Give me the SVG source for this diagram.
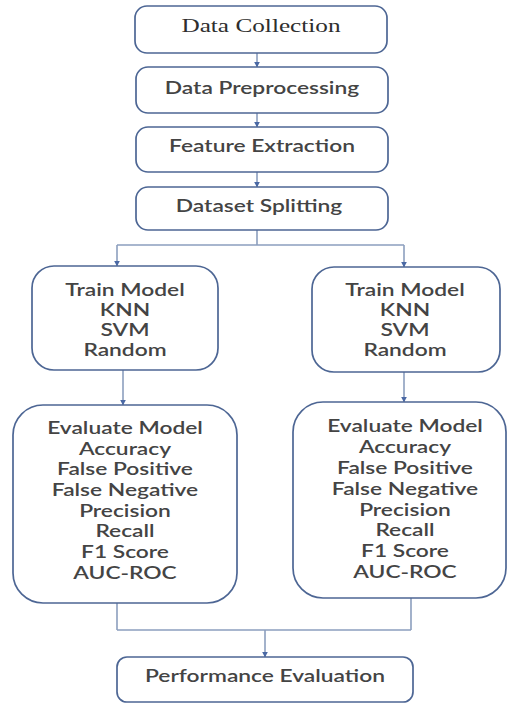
<svg xmlns="http://www.w3.org/2000/svg" width="508" height="704" viewBox="0 0 508 704">
  <defs>
    <marker id="arrow" viewBox="0 0 10 10" refX="9" refY="5" markerWidth="6" markerHeight="8" markerUnits="userSpaceOnUse" orient="auto">
      <path d="M0,0 L10,5 L0,10 z" fill="#4a68a4"/>
    </marker>
    <style>
      .box { fill: #ffffff; stroke: #4d6694; stroke-width: 1.7; }
      .link { fill: none; stroke: #8c9fbe; stroke-width: 1.6; }
      .arrow { marker-end: url(#arrow); }
      text { font-family: Lato, "Open Sans", sans-serif; font-size: 16.5px; font-weight: 600; fill: #444444; text-anchor: middle; dominant-baseline: central; }
      .serif { font-family: "Liberation Serif", "Times New Roman", serif; font-size: 19px; font-weight: 400; fill: #2e2e2e; }
    </style>
  </defs>
  <rect width="508" height="704" fill="#ffffff"/>

  <!-- connectors -->
  <g id="connectors">
    <path class="link arrow" d="M257,53 V67"/>
    <path class="link arrow" d="M257,113 V127"/>
    <path class="link arrow" d="M257,172 V187"/>
    <path class="link" d="M257,230 V245 M117,245 H404"/>
    <path class="link arrow" d="M117,245 V266"/>
    <path class="link arrow" d="M404,245 V267"/>
    <path class="link arrow" d="M123,370 V405"/>
    <path class="link arrow" d="M404,372 V402"/>
    <path class="link" d="M117,603 V630 M411,598 V630 M117,630 H411"/>
    <path class="link arrow" d="M265,630 V657"/>
  </g>

  <!-- text is set a little wide: each label group is stretched horizontally about its centre -->
  <g id="data-collection">
    <rect class="box" x="135" y="6" width="252" height="47" rx="12"/>
    <g transform="translate(261,0) scale(1.33,1)">
      <text class="serif" x="0" y="26">Data Collection</text>
    </g>
  </g>
  <g id="data-preprocessing">
    <rect class="box" x="136" y="67" width="252" height="46" rx="12"/>
    <g transform="translate(262,0) scale(1.38,1)">
      <text x="0" y="87">Data Preprocessing</text>
    </g>
  </g>
  <g id="feature-extraction">
    <rect class="box" x="136" y="127" width="252" height="45" rx="12"/>
    <g transform="translate(262,0) scale(1.38,1)">
      <text x="0" y="145">Feature Extraction</text>
    </g>
  </g>
  <g id="dataset-splitting">
    <rect class="box" x="136" y="187" width="252" height="43" rx="12"/>
    <g transform="translate(259,0) scale(1.38,1)">
      <text x="0" y="205">Dataset Splitting</text>
    </g>
  </g>

  <g id="train-left">
    <rect class="box" x="32" y="266" width="186" height="104" rx="22"/>
    <g transform="translate(125,0) scale(1.38,1)">
      <text x="0" y="289">Train Model</text>
      <text x="0" y="309">KNN</text>
      <text x="0" y="329">SVM</text>
      <text x="0" y="349">Random</text>
    </g>
  </g>
  <g id="train-right">
    <rect class="box" x="312" y="267" width="188" height="105" rx="22"/>
    <g transform="translate(405,0) scale(1.38,1)">
      <text x="0" y="289">Train Model</text>
      <text x="0" y="309">KNN</text>
      <text x="0" y="329">SVM</text>
      <text x="0" y="349">Random</text>
    </g>
  </g>

  <g id="evaluate-left">
    <rect class="box" x="13" y="405" width="224" height="198" rx="30"/>
    <g transform="translate(125,0) scale(1.38,1)">
      <text x="0" y="427">Evaluate Model</text>
      <text x="0" y="448">Accuracy</text>
      <text x="0" y="468">False Positive</text>
      <text x="0" y="489">False Negative</text>
      <text x="0" y="510">Precision</text>
      <text x="0" y="530">Recall</text>
      <text x="0" y="551">F1 Score</text>
      <text x="0" y="572">AUC-ROC</text>
    </g>
  </g>
  <g id="evaluate-right">
    <rect class="box" x="293" y="402" width="213" height="196" rx="30"/>
    <g transform="translate(405,0) scale(1.38,1)">
      <text x="0" y="425">Evaluate Model</text>
      <text x="0" y="446">Accuracy</text>
      <text x="0" y="467">False Positive</text>
      <text x="0" y="488">False Negative</text>
      <text x="0" y="509">Precision</text>
      <text x="0" y="529">Recall</text>
      <text x="0" y="550">F1 Score</text>
      <text x="0" y="571">AUC-ROC</text>
    </g>
  </g>

  <g id="performance-evaluation">
    <rect class="box" x="117" y="657" width="296" height="45" rx="10"/>
    <g transform="translate(265,0) scale(1.38,1)">
      <text x="0" y="675">Performance Evaluation</text>
    </g>
  </g>
</svg>
